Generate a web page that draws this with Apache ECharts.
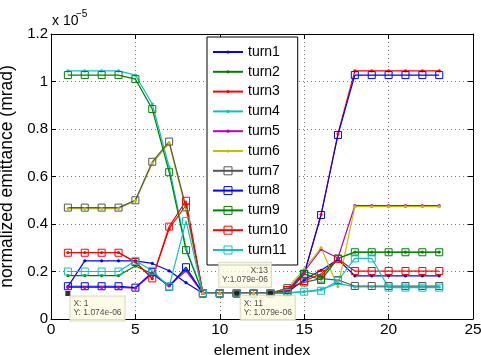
<!DOCTYPE html>
<html>
<head>
<meta charset="utf-8">
<script src="https://cdn.jsdelivr.net/npm/echarts@6/dist/echarts.min.js"></script>
<style>
  html, body { margin: 0; padding: 0; background: #fff; }
  #chart { width: 481px; height: 355px; }
</style>
</head>
<body>
<div id="chart"></div>
<script>
// element index along the beamline
const elementIndex = [1, 2, 3, 4, 5, 6, 7, 8, 9, 10, 11, 12, 13, 14, 15, 16, 17, 18, 19, 20, 21, 22, 23];

// normalized emittance, in units of 1e-5 mrad
const turn1 = [0.136, 0.245, 0.245, 0.245, 0.245, 0.234, 0.203, 0.153, 0.108, 0.108, 0.108, 0.108, 0.108, 0.112, 0.165, 0.205, 0.250, 0.182, 0.182, 0.182, 0.182, 0.182, 0.182];
const turn2 = [0.183, 0.183, 0.183, 0.183, 0.223, 0.190, 0.140, 0.210, 0.108, 0.108, 0.108, 0.108, 0.108, 0.115, 0.200, 0.180, 0.255, 0.282, 0.282, 0.282, 0.282, 0.282, 0.282];
const turn3 = [0.280, 0.280, 0.280, 0.280, 0.240, 0.170, 0.380, 0.480, 0.108, 0.108, 0.108, 0.108, 0.108, 0.110, 0.190, 0.440, 0.780, 1.045, 1.045, 1.045, 1.045, 1.045, 1.045];
const turn4 = [1.045, 1.045, 1.045, 1.045, 1.027, 0.905, 0.640, 0.300, 0.108, 0.108, 0.108, 0.108, 0.108, 0.110, 0.115, 0.125, 0.150, 0.135, 0.135, 0.135, 0.135, 0.135, 0.135];
const turn5 = [0.133, 0.133, 0.133, 0.133, 0.130, 0.190, 0.140, 0.203, 0.108, 0.108, 0.108, 0.108, 0.108, 0.120, 0.200, 0.293, 0.257, 0.477, 0.477, 0.477, 0.477, 0.477, 0.477];
const turn6 = [0.465, 0.465, 0.465, 0.465, 0.497, 0.655, 0.740, 0.460, 0.108, 0.108, 0.108, 0.108, 0.108, 0.130, 0.210, 0.300, 0.136, 0.473, 0.473, 0.473, 0.473, 0.473, 0.473];
const turn7 = [0.469, 0.469, 0.469, 0.469, 0.500, 0.662, 0.747, 0.470, 0.108, 0.108, 0.108, 0.108, 0.108, 0.130, 0.154, 0.170, 0.164, 0.139, 0.139, 0.139, 0.139, 0.139, 0.139];
const turn8 = [0.138, 0.138, 0.138, 0.138, 0.132, 0.197, 0.136, 0.218, 0.108, 0.108, 0.108, 0.108, 0.108, 0.112, 0.190, 0.438, 0.775, 1.027, 1.027, 1.027, 1.027, 1.027, 1.027];
const turn9 = [1.027, 1.027, 1.027, 1.027, 1.010, 0.884, 0.618, 0.290, 0.108, 0.108, 0.108, 0.108, 0.108, 0.115, 0.190, 0.164, 0.255, 0.281, 0.281, 0.281, 0.281, 0.281, 0.281];
const turn10 = [0.279, 0.279, 0.279, 0.279, 0.240, 0.171, 0.389, 0.498, 0.108, 0.108, 0.108, 0.108, 0.108, 0.122, 0.160, 0.190, 0.253, 0.202, 0.202, 0.202, 0.202, 0.202, 0.202];
const turn11 = [0.200, 0.200, 0.200, 0.200, 0.245, 0.203, 0.136, 0.413, 0.108, 0.108, 0.108, 0.108, 0.108, 0.110, 0.115, 0.119, 0.161, 0.255, 0.255, 0.132, 0.132, 0.132, 0.132];

const turnNames = ['turn1', 'turn2', 'turn3', 'turn4', 'turn5', 'turn6', 'turn7', 'turn8', 'turn9', 'turn10', 'turn11'];
const turnValues = [turn1, turn2, turn3, turn4, turn5, turn6, turn7, turn8, turn9, turn10, turn11];

// data tips (x, y in 1e-5 units)
const tipX = [1, 11, 13];
const tipY = [0.1074, 0.1079, 0.1079];

const xTicks = [0, 25, 5];
const yTicks = [0, 1.2, 0.2];

const FONT = 'Liberation Sans, Arial, Helvetica, sans-serif';
const colors = ['#0000ff', '#008000', '#ff0000', '#12c0c0', '#c000c0', '#c0c000',
                '#555555', '#0000ff', '#008000', '#ff0000', '#12c0c0'];
// small dot inside a 10x10 box so the legend keeps it small too
const DOT = 'path://M0,0M10,10M5,3A2,2,0,1,1,5,7A2,2,0,1,1,5,3Z';

const chart = echarts.init(document.getElementById('chart'));

const fmtExp = (v) => {
  const s = (v * 1e-5).toExponential(3);
  const parts = s.split('e');
  const sign = parts[1][0];
  let digits = parts[1].slice(1);
  if (digits.length < 2) digits = '0' + digits;
  return parts[0] + 'e' + sign + digits;
};

const lineSeries = turnValues.map((vals, k) => {
  const c = colors[k];
  const isDot = k < 6;
  return {
    name: turnNames[k],
    type: 'line',
    data: elementIndex.map((x, i) => [x, vals[i]]),
    symbol: isDot ? DOT : 'rect',
    symbolSize: isDot ? 8 : 7,
    itemStyle: isDot ? { color: c } : { color: 'rgba(0,0,0,0)', borderColor: c, borderWidth: 1 },
    lineStyle: { color: c, width: 1.2 },
    emphasis: { disabled: true },
    silent: true,
    z: 2
  };
});

const tipLabelPos = [
  { position: [5, 5.5], align: 'left', verticalAlign: 'top', sep: ': ' },
  { position: [6.5, 5], align: 'left', verticalAlign: 'top', sep: ': ' },
  { position: [3, -4], align: 'right', verticalAlign: 'bottom', sep: ':' }
];

const tipSeries = {
  name: 'datatip',
  type: 'scatter',
  symbol: 'rect',
  symbolSize: 5,
  itemStyle: { color: '#000' },
  silent: true,
  z: 10,
  data: tipX.map((x, i) => ({
    value: [x, tipY[i]],
    label: {
      show: true,
      position: tipLabelPos[i].position,
      align: tipLabelPos[i].align,
      verticalAlign: tipLabelPos[i].verticalAlign,
      formatter: 'X' + tipLabelPos[i].sep + x + '\nY' + tipLabelPos[i].sep + fmtExp(tipY[i]),
      fontFamily: FONT,
      fontSize: 8.5,
      lineHeight: 9,
      color: '#222',
      backgroundColor: '#fdfbe2',
      borderColor: '#d6d2b6',
      borderWidth: 1,
      padding: [3, 3, 3, 3]
    }
  }))
};

const option = {
  animation: false,
  backgroundColor: '#fff',
  grid: { left: 51, right: 8, top: 34, bottom: 36, outerBoundsMode: 'none' },
  graphic: [
    { type: 'text', left: 52, top: 14, style: { text: 'x 10', font: '14px ' + FONT, fill: '#000' } },
    { type: 'text', left: 76, top: 9, style: { text: '\u22125', font: '10px ' + FONT, fill: '#000' } }
  ],
  legend: {
    data: turnNames,
    orient: 'vertical',
    left: 207,
    top: 37,
    itemWidth: 30,
    itemHeight: 10,
    itemGap: 5.8,
    padding: [8, 10, 8, 5],
    backgroundColor: '#fff',
    borderColor: '#000',
    borderWidth: 1,
    borderRadius: 0,
    selectedMode: false,
    itemStyle: { borderWidth: 1 },
    textStyle: { fontFamily: FONT, fontSize: 14, color: '#000', padding: [0, 0, 0, 0] },
    z: 5
  },
  xAxis: [{
    type: 'value',
    min: xTicks[0], max: xTicks[1], interval: xTicks[2],
    position: 'bottom',
    name: 'element index',
    nameLocation: 'middle',
    nameGap: 19,
    nameTextStyle: { fontFamily: FONT, fontSize: 15.5, color: '#000' },
    axisLine: { onZero: false, lineStyle: { color: '#000', width: 1 } },
    axisTick: { inside: true, length: 5, lineStyle: { color: '#000' } },
    axisLabel: { fontFamily: FONT, fontSize: 15.5, color: '#000', margin: 3 },
    splitLine: { show: true, lineStyle: { color: '#777', type: [1, 3], width: 1 } }
  }, {
    type: 'value',
    min: xTicks[0], max: xTicks[1], interval: xTicks[2],
    position: 'top',
    axisLine: { onZero: false, lineStyle: { color: '#000', width: 1 } },
    axisTick: { inside: true, length: 5, lineStyle: { color: '#000' } },
    axisLabel: { show: false },
    splitLine: { show: false }
  }],
  yAxis: [{
    type: 'value',
    min: yTicks[0], max: yTicks[1], interval: yTicks[2],
    position: 'left',
    name: 'normalized emittance (mrad)',
    nameLocation: 'middle',
    nameGap: 29,
    nameTextStyle: { fontFamily: FONT, fontSize: 17.5, color: '#000' },
    axisLine: { onZero: false, lineStyle: { color: '#000', width: 1 } },
    axisTick: { inside: true, length: 5, lineStyle: { color: '#000' } },
    axisLabel: { fontFamily: FONT, fontSize: 15, color: '#000', margin: 3 },
    splitLine: { show: true, lineStyle: { color: '#777', type: [1, 3], width: 1 } }
  }, {
    type: 'value',
    min: yTicks[0], max: yTicks[1], interval: yTicks[2],
    position: 'right',
    axisLine: { onZero: false, lineStyle: { color: '#000', width: 1 } },
    axisTick: { inside: true, length: 5, lineStyle: { color: '#000' } },
    axisLabel: { show: false },
    splitLine: { show: false }
  }],
  series: lineSeries.concat([tipSeries])
};

chart.setOption(option);
</script>
</body>
</html>
